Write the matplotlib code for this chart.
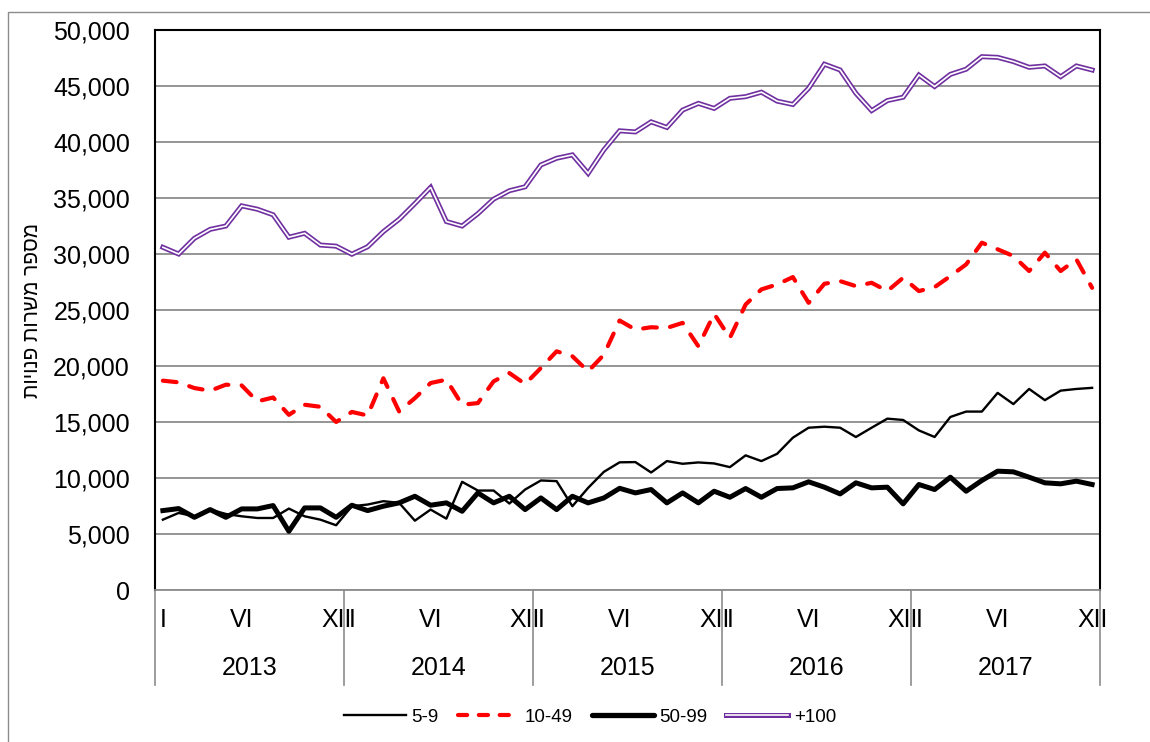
import numpy as np
import matplotlib.pyplot as plt
from matplotlib.lines import Line2D
from matplotlib.patches import Rectangle
from matplotlib.legend_handler import HandlerTuple
from matplotlib.ticker import FuncFormatter

plt.rcParams['font.family'] = ['Liberation Sans', 'DejaVu Sans']

years = ['2013', '2014', '2015', '2016', '2017']
month_marks = {0: 'I', 5: 'VI', 11: 'XII'}

# monthly vacancies by firm size, Jan 2013 - Dec 2017
s_5_9 = [6280, 6880, 6580, 7180, 6790, 6580, 6430, 6430, 7270, 6580, 6280, 5780,
         7480, 7630, 7930, 7780, 6190, 7180, 6370, 9660, 8880, 8880, 7720, 8970,
         9780, 9720, 7480, 9120, 10550, 11400, 11420, 10490, 11510, 11270, 11390, 11300,
         10970, 12020, 11510, 12160, 13600, 14490, 14580, 14490, 13660, 14490, 15300, 15180,
         14250, 13660, 15450, 15930, 15930, 17600, 16600, 17950, 16950, 17800, 17950, 18050]
s_10_49 = [18690, 18540, 18030, 17790, 18330, 18270, 16840, 17190, 15640, 16540, 16360, 15000,
           15900, 15580, 18900, 15940, 17130, 18480, 18780, 16540, 16690, 18630, 19370, 18390,
           19820, 21310, 20870, 19520, 21010, 24060, 23250, 23460, 23400, 23850, 21760, 24660,
           22510, 25490, 26840, 27280, 27940, 25640, 27340, 27580, 27130, 27430, 26690, 27880,
           26690, 27040, 28030, 29070, 31010, 30420, 29820, 28480, 30120, 28480, 29520, 26980]
s_50_99 = [7090, 7270, 6490, 7180, 6490, 7240, 7240, 7540, 5240, 7330, 7330, 6490,
           7570, 7090, 7480, 7780, 8370, 7570, 7780, 7030, 8670, 7780, 8370, 7180,
           8220, 7180, 8370, 7780, 8220, 9080, 8670, 8970, 7780, 8670, 7780, 8820,
           8280, 9060, 8280, 9060, 9120, 9660, 9180, 8580, 9570, 9120, 9180, 7690,
           9420, 8970, 10070, 8820, 9780, 10610, 10550, 10070, 9570, 9480, 9720, 9420]
s_100 = [30600, 30000, 31400, 32200, 32500, 34300, 34000, 33500, 31500, 31850, 30800, 30700,
         29980, 30650, 32000, 33100, 34500, 35950, 32900, 32500, 33600, 34900, 35650, 36000,
         37950, 38550, 38850, 37200, 39300, 41000, 40900, 41800, 41300, 42850, 43450, 43000,
         43900, 44050, 44450, 43650, 43350, 44800, 46950, 46430, 44350, 42800, 43700, 44000,
         45980, 44950, 46040, 46500, 47620, 47560, 47180, 46670, 46790, 45830, 46790, 46430]

x = np.arange(len(s_100))

fig = plt.figure(figsize=(11.5, 7.42), dpi=100)
ax = fig.add_axes([155 / 1150, 1 - 590 / 742, 945 / 1150, 560 / 742])

purple = '#7030A0'
ax.plot(x, s_5_9, color='black', lw=1.7, zorder=3)
ax.plot(x, s_10_49, color='#FF0000', lw=3, dashes=(3.3, 3.2), dash_capstyle='round', zorder=3)
ax.plot(x, s_50_99, color='black', lw=3.6, zorder=3)
ax.plot(x, s_100, color=purple, lw=3.6, solid_joinstyle='miter', zorder=3)
ax.plot(x, s_100, color='white', lw=1.2, solid_joinstyle='miter', zorder=4)

ax.set_xlim(-0.5, len(x) - 0.5)
ax.set_ylim(0, 50000)
ax.set_yticks(np.arange(0, 50001, 5000))
ax.yaxis.set_major_formatter(FuncFormatter(lambda v, p: f'{int(v):,}'))
ax.grid(axis='y', color='#8c8c8c', lw=1.3, zorder=1)
ax.tick_params(axis='y', length=0, pad=18, labelsize=18)

# month labels on the category axis (XII and the next I sit side by side)
ticks, labels = [], []
for k in range(len(years)):
    for m, lab in month_marks.items():
        ticks.append(12 * k + m)
        labels.append(lab)
ax.set_xticks(ticks)
ax.set_xticklabels(labels)
ax.tick_params(axis='x', length=0, pad=13, labelsize=18)

for side in ['left', 'top', 'right']:
    ax.spines[side].set_color('black')
    ax.spines[side].set_linewidth(1.5)
ax.spines['bottom'].set_color('#8c8c8c')
ax.spines['bottom'].set_linewidth(1.3)

# year separators and year labels
trans = ax.get_xaxis_transform()
for k in range(len(years) + 1):
    bx = 12 * k - 0.5
    ax.plot([bx, bx], [0, -0.17], transform=trans, color='#8c8c8c', lw=1.2, clip_on=False)
for k, yr in enumerate(years):
    ax.text(12 * k + 5.5, -0.139, yr, transform=trans, ha='center', va='center', fontsize=18)

ax.set_ylabel('מספר משרות פנויות'[::-1], fontsize=15, labelpad=8)

h1 = Line2D([], [], color='black', lw=1.7)
h2 = Line2D([], [], color='#FF0000', lw=3, dashes=(2.2, 2.8), dash_capstyle='round')
h3 = Line2D([], [], color='black', lw=3.8, solid_capstyle='round')
h4 = (Line2D([], [], color=purple, lw=3.6), Line2D([], [], color='white', lw=1.2))
fig.legend([h1, h2, h3, h4], ['5-9', '10-49', '50-99', '+100'],
           handler_map={tuple: HandlerTuple(ndivide=1, pad=0)},
           loc='center', bbox_to_anchor=(0.513, 1 - 717 / 742), ncol=4, frameon=False,
           fontsize=13.5, handlelength=3.3, handletextpad=0.3, columnspacing=1.0)

fig.patches.append(Rectangle((8 / 1150, -0.05), 1.0, 1 - 12 / 742 + 0.05,
                             transform=fig.transFigure, fill=False,
                             edgecolor='#8c8c8c', lw=1))

fig.savefig('out.png', dpi=100)
